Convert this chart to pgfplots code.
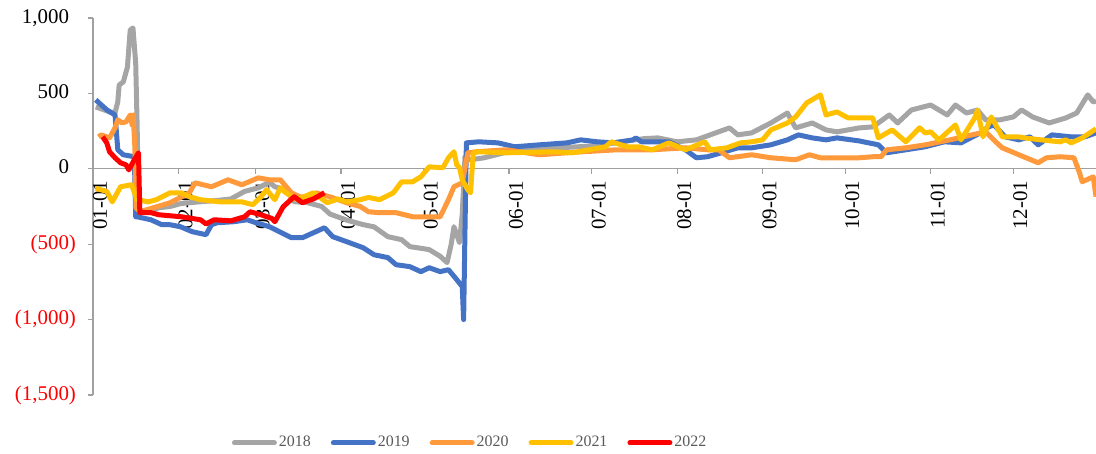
\documentclass[border=0pt]{standalone}
\usepackage{pgfplots}
\pgfplotsset{compat=1.18}
\usepackage{fontspec}
\setmainfont{Liberation Serif}
\definecolor{c18}{HTML}{A5A5A5}
\definecolor{c19}{HTML}{4472C4}
\definecolor{c20}{HTML}{FF9A3C}
\definecolor{c21}{HTML}{FFC000}
\definecolor{c22}{HTML}{FF0000}
\definecolor{axgray}{HTML}{A0A0A0}
\definecolor{legtext}{HTML}{595959}
\begin{document}
\begin{tikzpicture}
\path[use as bounding box] (-46.5bp,-29.5bp) rectangle (501.5bp,197.5bp);
\begin{axis}[
  scale only axis, width=501.5bp, height=188.5bp,
  xmin=0, xmax=364, ymin=-1500, ymax=1000,
  axis x line=middle, axis y line=left,
  axis line style={-, axgray, line width=0.6bp},
  hide obscured x ticks=false, hide obscured y ticks=false,
  xtick={0,31,59,90,120,151,181,212,243,273,304,334},
  xticklabels={01-01,02-01,03-01,04-01,05-01,06-01,07-01,08-01,09-01,10-01,11-01,12-01},
  ytick={-1500,-1000,-500,0,500,1000},
  yticklabels={{\color{red}(1,500)},{\color{red}(1,000)},{\color{red}(500)},{0\phantom{)}},{500\phantom{)}},{1,000\phantom{)}}},
  tick align=outside, major tick length=2.5bp,
  tick style={axgray, line width=0.6bp},
  x tick label style={rotate=90, anchor=east, yshift=-3.5bp, font=\fontsize{10.5}{12}\selectfont},
  y tick label style={xshift=-2.5bp, font=\fontsize{10.5}{12}\selectfont},
  legend columns=5,
  legend style={draw=none, fill=none, at={(0.376,-0.127)}, anchor=center,
    font=\fontsize{8}{9}\selectfont, text=legtext,
    nodes={inner xsep=1bp},
    /tikz/every even column/.append style={column sep=9bp}},
  legend image code/.code={\draw[#1, line width=2.5bp, line cap=round] (0bp,0bp) -- (20bp,0bp);},
  every axis plot/.append style={line width=2.5bp, line join=round},
]
% 2018
\addplot[c18] coordinates {
(1,410)(4,391)(6,377)(8,371)(9,444)(9.5,556)(11,576)(12.5,675)(13.5,920)(14.5,934)(15.5,700)(16,300)(16.5,-205)(17,-280)
(20,-285)(24,-258)(28,-250)(32,-230)(38,-220)(45,-210)(50,-200)(55,-150)(60,-126)(64,-90)(66,-119)(70,-139)(73,-218)(78,-225)(83,-250)(86,-300)(92,-340)(98,-370)(102,-385)(107,-450)(112,-470)(115,-516)(120,-530)(122,-536)(126,-580)(128.5,-622)(130,-500)(131,-384)(133,-490)(134,-300)(135,80)
(137,60)(142,73)(150,110)(160,130)(170,140)(180,150)(190,175)(200,200)(205,205)(212,179)(219,192)(227,245)(231,271)(234,225)(239,238)(246,304)(252,370)(255,271)(261,304)(266,258)(270,245)(278,271)(283,278)(289,357)(292,304)(297,390)(304,423)(310,357)(313,423)(317,370)(321,390)(324,324)(329,324)(334,344)(337,390)(341,344)(347,304)(353,337)(357,370)(361,490)(363,443)(364,450)
};
\addlegendentry{2018}
% 2019
\addplot[c19] coordinates {
(1,457)(5,391)(8,357)(9,126)(11,93)(15,80)(15.5,-318)(16,-318)(21,-338)(25,-371)(28,-371)(31.7,-384)(36,-417)(41,-437)(43,-371)(45,-358)(51,-351)(56,-338)(58,-351)(64,-384)(72,-457)(76,-457)(80,-424)(84,-391)(87,-450)(92,-483)(98,-523)(102,-570)(107,-589)(110,-636)(115,-649)(119,-682)(122,-656)(126,-682)(129,-669)(132,-735)(134,-781)(134.5,-1000)(135,-400)(135.5,172)
(140,179)(147,172)(153,146)(162,159)(172,172)(177,192)(183,179)(189,172)(196,192)(197,205)(199,179)(209,179)(215,126)(219,73)(223,80)(228,106)(234,139)(239,139)(246,159)(252,192)(256,225)(261,205)(266,192)(270,205)(278,185)(285,159)(288,106)(295,126)(302,146)(309,179)(315,172)(322,238)(325,278)(327,291)(331,212)(336,192)(340,212)(343,159)(348,225)(355,212)(360,212)(364,238)
};
\addlegendentry{2019}
% 2020
\addplot[c20] coordinates {
(2,212)(3,225)(6,205)(8,272)(9,325)(10.5,305)(12,311)(13.5,357)(14.2,291)(14.6,357)(15.2,139)(15.6,-258)(17,-285)(28,-225)(35,-159)(37,-93)(43,-119)(49,-73)(54,-106)(60,-60)(64,-73)(68,-73)(72,-159)(75,-185)(79,-192)(81,-159)(87,-192)(92,-225)(97,-250)(100,-285)(104,-291)(110,-291)(116,-318)(120,-318)(126,-318)(129,-205)(131,-119)(134,-93)(136,106)(139,113)
(150,126)(162,93)(175,110)(190,126)(203,126)(215,139)(223,126)(227,126)(231,73)(239,93)(246,73)(255,60)(260,93)(264,73)(278,73)(283,80)(286,80)(288,126)(295,139)(302,159)(311,192)(319,225)(324,245)(328,172)(330,139)(336,93)(343,40)(346,73)(351,80)(356,73)(358,-26)(359,-86)(363,-53)(364,-185)
};
\addlegendentry{2020}
% 2021
\addplot[c21] coordinates {
(1,-130)(3,-140)(5,-150)(7,-219)(10,-119)(14,-106)(16,-205)(20,-219)(23,-205)(28,-159)(32,-159)(35,-185)(39,-205)(46,-219)(54,-219)(58,-238)(61,-185)(63,-139)(66,-205)(68,-126)(70,-159)(74,-205)(80,-159)(85,-225)(89,-200)(92,-219)(97,-205)(100,-190)(104,-205)(109,-159)(112,-86)(116,-86)(119,-53)(122,13)(127,7)(129,73)(131,113)(132,26)(133,7)(134,-73)(136,-139)(137,-159)(138,106)
(140,113)(150,106)(167,113)(174,106)(180,126)(186,146)(188,179)(194,146)(198,146)(203,126)(209,172)(215,126)(222,179)(224,126)(230,139)(235,172)(239,179)(243,192)(246,258)(252,304)(255,344)(259,437)(264,490)(266,357)(270,377)(274,338)(283,338)(285,205)(290,258)(295,179)(300,272)(302,238)(304,245)(307,192)(313,291)(315,192)(320,338)(321,390)(323,212)(326,344)(330,212)(336,212)(338,205)(344,192)(351,179)(353,192)(355,172)(359,205)(364,265)
};
\addlegendentry{2021}
% 2022
\addplot[c22] coordinates {
(3.5,212)(5,172)(6,113)(8,73)(10,40)(12,26)(13,-7)(15,60)(16.5,106)(17,-291)(21,-291)(24,-305)(32,-318)(39,-338)(41,-365)(44,-338)(50,-345)(55,-318)(57,-285)(61,-305)(65,-330)(66,-351)(69,-252)(73,-185)(76,-225)(80,-200)(84,-159)
};
\addlegendentry{2022}
\end{axis}
\end{tikzpicture}
\end{document}
